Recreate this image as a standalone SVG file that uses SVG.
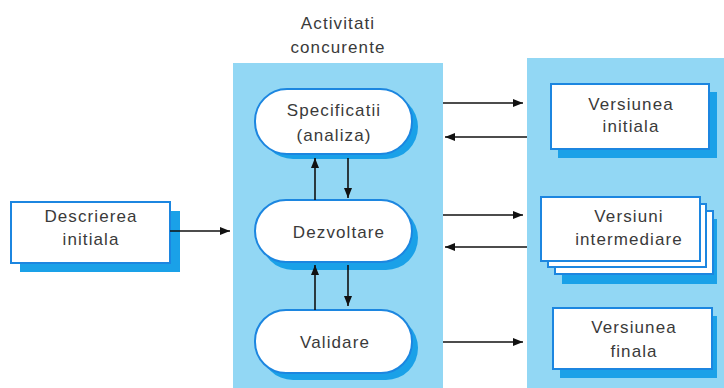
<svg xmlns="http://www.w3.org/2000/svg" width="724" height="388" viewBox="0 0 724 388">
<style>
.panel{fill:#92d7f4}
.sh{fill:#1aa1e8}
.box{fill:#fff;stroke:#1c86e0;stroke-width:2}
.t{font-family:"Liberation Sans",Arial,sans-serif;font-size:17px;letter-spacing:1.1px;fill:#3a3a3a;text-anchor:middle}
.c{stroke:#111;stroke-width:1.6;fill:none;marker-end:url(#ah)}
</style>
<defs>
<marker id="ah" viewBox="0 0 10 8" refX="10" refY="4" markerWidth="10" markerHeight="8" markerUnits="userSpaceOnUse" orient="auto">
<path d="M0,0 L10,4 L0,8 Z" fill="#111"/>
</marker>
</defs>
<rect width="724" height="388" fill="#fff"/>
<rect class="panel" x="233" y="63" width="210" height="325"/>
<rect class="panel" x="527" y="58" width="197" height="330"/>
<text class="t" x="338" y="29">Activitati</text>
<text class="t" x="338" y="53">concurente</text>

<g id="descrierea">
<rect class="sh" x="20" y="211" width="160" height="61"/>
<rect class="box" x="11" y="202" width="159" height="61"/>
<text class="t" x="91" y="222">Descrierea</text>
<text class="t" x="91" y="245">initiala</text>
</g>

<g id="specificatii">
<rect class="sh" x="261" y="95" width="157" height="64" rx="32"/>
<rect class="box" x="255" y="89" width="157" height="65" rx="32"/>
<text class="t" x="334" y="116">Specificatii</text>
<text class="t" x="334" y="141">(analiza)</text>
</g>

<g id="dezvoltare">
<rect class="sh" x="261" y="206" width="157" height="64" rx="32"/>
<rect class="box" x="255" y="200" width="157" height="62" rx="31"/>
<text class="t" x="339" y="238">Dezvoltare</text>
</g>

<g id="validare">
<rect class="sh" x="261" y="316" width="157" height="64" rx="32"/>
<rect class="box" x="255" y="310" width="157" height="63" rx="31"/>
<text class="t" x="335" y="348">Validare</text>
</g>

<g id="versiunea-initiala">
<rect class="sh" x="558" y="92" width="159" height="66"/>
<rect class="box" x="551" y="84" width="158" height="65"/>
<text class="t" x="631" y="110">Versiunea</text>
<text class="t" x="631" y="132">initiala</text>
</g>

<g id="versiuni-intermediare">
<rect class="sh" x="562" y="219" width="155" height="65"/>
<rect class="box" x="555" y="211" width="158" height="63"/>
<rect class="box" x="548" y="204" width="158" height="63"/>
<rect class="box" x="541" y="197" width="159" height="64"/>
<text class="t" x="629" y="222">Versiuni</text>
<text class="t" x="629" y="245">intermediare</text>
</g>

<g id="versiunea-finala">
<rect class="sh" x="560" y="316" width="157" height="62"/>
<rect class="box" x="553" y="308" width="159" height="61"/>
<text class="t" x="634" y="333">Versiunea</text>
<text class="t" x="634" y="357">finala</text>
</g>

<g id="connectors">
<line class="c" x1="170" y1="231" x2="230" y2="231"/>
<line class="c" x1="315" y1="200" x2="315" y2="158"/>
<line class="c" x1="348" y1="158" x2="348" y2="198"/>
<line class="c" x1="315" y1="310" x2="315" y2="265"/>
<line class="c" x1="348" y1="265" x2="348" y2="306"/>
<line class="c" x1="443" y1="103" x2="523" y2="103"/>
<line class="c" x1="527" y1="137" x2="445" y2="137"/>
<line class="c" x1="443" y1="215" x2="523" y2="215"/>
<line class="c" x1="527" y1="247" x2="445" y2="247"/>
<line class="c" x1="443" y1="342" x2="523" y2="342"/>
</g>
</svg>
